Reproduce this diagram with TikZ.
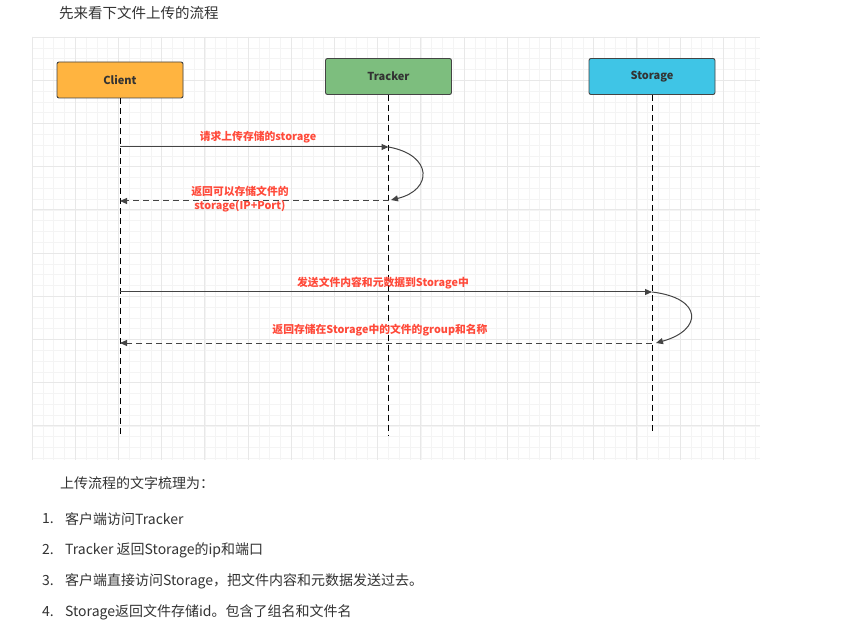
\documentclass[tikz,border=0pt]{standalone}
\usepackage{fontspec}
\newfontfamily\cjk{Noto Sans CJK SC}
\setmainfont{Noto Sans CJK SC}
\usetikzlibrary{arrows.meta}
\definecolor{gminor}{HTML}{F4F4F4}
\definecolor{gmajor}{HTML}{E8E8E8}
\definecolor{cfill}{HTML}{FFB440}
\definecolor{tfill}{HTML}{7DBE7E}
\definecolor{sfill}{HTML}{3FC5E6}
\definecolor{lbl}{HTML}{FF4A3A}
\definecolor{ln}{HTML}{444444}
\definecolor{txt}{HTML}{333333}
\tikzset{
  actor/.style={draw=ln, line width=0.9pt, rounded corners=2pt, minimum width=126pt, minimum height=36pt, inner sep=0pt, font=\cjk\bfseries\fontsize{11}{13}\selectfont, text=txt},
  life/.style={draw=black, line width=1pt, dash pattern=on 6pt off 4pt},
  msg/.style={draw=ln, line width=1pt, -{Triangle[length=7pt,width=6pt]}},
  ret/.style={msg, dash pattern=on 6pt off 4pt},
  lab/.style={font=\cjk\bfseries\fontsize{10.8}{14.5}\selectfont, text=lbl, align=center, inner sep=1pt},
  para/.style={font=\cjk\fontsize{14}{16}\selectfont, text=txt, anchor=west, inner sep=0pt},
}
\begin{document}
\begin{tikzpicture}[x=1pt,y=-1pt]
\useasboundingbox[fill=white] (0,0) rectangle (854,628);
% grid
\foreach \i in {0,...,67} {
  \draw[gminor, line width=0.5pt] ({32+10.8*\i},37) -- ({32+10.8*\i},460);
}
\foreach \j in {0,...,39} {
  \draw[gminor, line width=0.5pt] (32,{37+10.8*\j}) -- (760,{37+10.8*\j});
}
\foreach \i in {0,...,16} {
  \draw[gmajor, line width=0.7pt] ({32+43.2*\i},37) -- ({32+43.2*\i},460);
}
\foreach \j in {0,...,9} {
  \draw[gmajor, line width=0.7pt] (32,{37+43.2*\j}) -- (760,{37+43.2*\j});
}
% title
\node[font=\cjk\fontsize{14.5}{16}\selectfont, text=txt, anchor=west, inner sep=0pt] (title) at (59,13) {先来看下文件上传的流程};
% actors
\node[actor, fill=cfill] (client) at (120,80) {Client};
\node[actor, fill=tfill] (tracker) at (388.5,76.5) {Tracker};
\node[actor, fill=sfill] (storage) at (652,76.5) {Storage};
% lifeline ends
\coordinate (cend) at (120,438);
\coordinate (tend) at (388.5,435);
\coordinate (send) at (652,434);
\draw[life] (client.south) -- (cend);
\draw[life] (tracker.south) -- (tend);
\draw[life] (storage.south) -- (send);
% message points
\coordinate (c1) at (120,147);
\coordinate (t1) at (388.5,147);
\coordinate (t2) at (391,200);
\coordinate (t2b) at (388.5,201);
\coordinate (c2) at (120,201);
\coordinate (c3) at (120,292);
\coordinate (s3) at (652,292);
\coordinate (s4) at (656,343);
\coordinate (s4b) at (652,343);
\coordinate (c4) at (120,343);
\draw[msg] (c1) -- (t1);
\draw[msg] (t1) .. controls (433,155) and (433,190) .. (t2);
\draw[ret] (t2b) -- (c2);
\draw[msg] (c3) -- (s3);
\draw[msg] (s3) .. controls (703,298) and (703,330) .. (s4);
\draw[ret] (s4b) -- (c4);
% labels
\node[lab] (l1) at (258,137) {请求上传存储的storage};
\node[lab] (l2) at (240,199) {返回可以存储文件的\\storage(IP+Port)};
\node[lab] (l3) at (383,283) {发送文件内容和元数据到Storage中};
\node[lab] (l4) at (380,330) {返回存储在Storage中的文件的group和名称};
% text
\node[para] (head) at (60,483) {上传流程的文字梳理为：};
\node[para] (n1) at (42,519) {1.};
\node[para] (t1x) at (65,519) {客户端访问Tracker};
\node[para] (n2) at (42,550) {2.};
\node[para] (t2x) at (65,550) {Tracker 返回Storage的ip和端口};
\node[para] (n3) at (42,581) {3.};
\node[para] (t3x) at (65,581) {客户端直接访问Storage，把文件内容和元数据发送过去。};
\node[para] (n4) at (42,612) {4.};
\node[para] (t4x) at (65,612) {Storage返回文件存储id。包含了组名和文件名};
\end{tikzpicture}
\end{document}
